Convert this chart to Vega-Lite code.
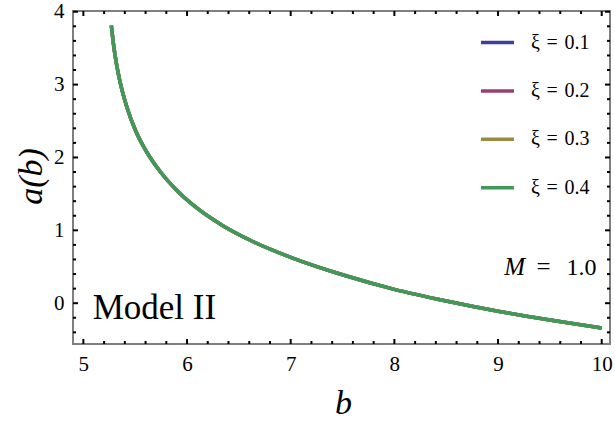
{
  "$schema": "https://vega.github.io/schema/vega-lite/v6.json",
  "width": 537,
  "height": 333,
  "autosize": {"type": "none"},
  "padding": {"left": 73, "top": 11, "right": 5, "bottom": 86},
  "background": "white",
  "config": {
    "view": {"stroke": "#7f7f7f", "strokeWidth": 2},
    "axis": {"domain": false, "grid": false, "ticks": false, "labelFont": "Liberation Serif", "labelFontSize": 21, "labelColor": "black", "titleFont": "Liberation Serif", "titleColor": "black", "titleFontWeight": "normal", "titleFontStyle": "italic", "titleFontSize": 34}
  },
  "datasets": {
    "xticks": [
      {"t": 5, "kind": "major"}, {"t": 5.2, "kind": "minor"}, {"t": 5.4, "kind": "minor"}, {"t": 5.6, "kind": "minor"}, {"t": 5.8, "kind": "minor"},
      {"t": 6, "kind": "major"}, {"t": 6.2, "kind": "minor"}, {"t": 6.4, "kind": "minor"}, {"t": 6.6, "kind": "minor"}, {"t": 6.8, "kind": "minor"},
      {"t": 7, "kind": "major"}, {"t": 7.2, "kind": "minor"}, {"t": 7.4, "kind": "minor"}, {"t": 7.6, "kind": "minor"}, {"t": 7.8, "kind": "minor"},
      {"t": 8, "kind": "major"}, {"t": 8.2, "kind": "minor"}, {"t": 8.4, "kind": "minor"}, {"t": 8.6, "kind": "minor"}, {"t": 8.8, "kind": "minor"},
      {"t": 9, "kind": "major"}, {"t": 9.2, "kind": "minor"}, {"t": 9.4, "kind": "minor"}, {"t": 9.6, "kind": "minor"}, {"t": 9.8, "kind": "minor"},
      {"t": 10, "kind": "major"}
    ],
    "yticks": [
      {"t": -0.4, "kind": "minor"}, {"t": -0.2, "kind": "minor"},
      {"t": 0, "kind": "major"}, {"t": 0.2, "kind": "minor"}, {"t": 0.4, "kind": "minor"}, {"t": 0.6, "kind": "minor"}, {"t": 0.8, "kind": "minor"},
      {"t": 1, "kind": "major"}, {"t": 1.2, "kind": "minor"}, {"t": 1.4, "kind": "minor"}, {"t": 1.6, "kind": "minor"}, {"t": 1.8, "kind": "minor"},
      {"t": 2, "kind": "major"}, {"t": 2.2, "kind": "minor"}, {"t": 2.4, "kind": "minor"}, {"t": 2.6, "kind": "minor"}, {"t": 2.8, "kind": "minor"},
      {"t": 3, "kind": "major"}, {"t": 3.2, "kind": "minor"}, {"t": 3.4, "kind": "minor"}, {"t": 3.6, "kind": "minor"}, {"t": 3.8, "kind": "minor"},
      {"t": 4, "kind": "major"}
    ],
    "curves": [
      {"xi": "ξ = 0.1", "b": 5.27, "a": 3.81}, {"xi": "ξ = 0.1", "b": 5.29, "a": 3.56}, {"xi": "ξ = 0.1", "b": 5.32, "a": 3.28}, {"xi": "ξ = 0.1", "b": 5.36, "a": 3.0},
      {"xi": "ξ = 0.1", "b": 5.42, "a": 2.69}, {"xi": "ξ = 0.1", "b": 5.5, "a": 2.38}, {"xi": "ξ = 0.1", "b": 5.6, "a": 2.1}, {"xi": "ξ = 0.1", "b": 5.75, "a": 1.79},
      {"xi": "ξ = 0.1", "b": 5.9, "a": 1.55}, {"xi": "ξ = 0.1", "b": 6.1, "a": 1.3}, {"xi": "ξ = 0.1", "b": 6.35, "a": 1.06}, {"xi": "ξ = 0.1", "b": 6.6, "a": 0.87},
      {"xi": "ξ = 0.1", "b": 7.0, "a": 0.63}, {"xi": "ξ = 0.1", "b": 7.5, "a": 0.39}, {"xi": "ξ = 0.1", "b": 8.0, "a": 0.19}, {"xi": "ξ = 0.1", "b": 8.5, "a": 0.03},
      {"xi": "ξ = 0.1", "b": 9.0, "a": -0.11}, {"xi": "ξ = 0.1", "b": 9.5, "a": -0.23}, {"xi": "ξ = 0.1", "b": 10.0, "a": -0.34},
      {"xi": "ξ = 0.2", "b": 5.27, "a": 3.81}, {"xi": "ξ = 0.2", "b": 5.29, "a": 3.56}, {"xi": "ξ = 0.2", "b": 5.32, "a": 3.28}, {"xi": "ξ = 0.2", "b": 5.36, "a": 3.0},
      {"xi": "ξ = 0.2", "b": 5.42, "a": 2.69}, {"xi": "ξ = 0.2", "b": 5.5, "a": 2.38}, {"xi": "ξ = 0.2", "b": 5.6, "a": 2.1}, {"xi": "ξ = 0.2", "b": 5.75, "a": 1.79},
      {"xi": "ξ = 0.2", "b": 5.9, "a": 1.55}, {"xi": "ξ = 0.2", "b": 6.1, "a": 1.3}, {"xi": "ξ = 0.2", "b": 6.35, "a": 1.06}, {"xi": "ξ = 0.2", "b": 6.6, "a": 0.87},
      {"xi": "ξ = 0.2", "b": 7.0, "a": 0.63}, {"xi": "ξ = 0.2", "b": 7.5, "a": 0.39}, {"xi": "ξ = 0.2", "b": 8.0, "a": 0.19}, {"xi": "ξ = 0.2", "b": 8.5, "a": 0.03},
      {"xi": "ξ = 0.2", "b": 9.0, "a": -0.11}, {"xi": "ξ = 0.2", "b": 9.5, "a": -0.23}, {"xi": "ξ = 0.2", "b": 10.0, "a": -0.34},
      {"xi": "ξ = 0.3", "b": 5.27, "a": 3.81}, {"xi": "ξ = 0.3", "b": 5.29, "a": 3.56}, {"xi": "ξ = 0.3", "b": 5.32, "a": 3.28}, {"xi": "ξ = 0.3", "b": 5.36, "a": 3.0},
      {"xi": "ξ = 0.3", "b": 5.42, "a": 2.69}, {"xi": "ξ = 0.3", "b": 5.5, "a": 2.38}, {"xi": "ξ = 0.3", "b": 5.6, "a": 2.1}, {"xi": "ξ = 0.3", "b": 5.75, "a": 1.79},
      {"xi": "ξ = 0.3", "b": 5.9, "a": 1.55}, {"xi": "ξ = 0.3", "b": 6.1, "a": 1.3}, {"xi": "ξ = 0.3", "b": 6.35, "a": 1.06}, {"xi": "ξ = 0.3", "b": 6.6, "a": 0.87},
      {"xi": "ξ = 0.3", "b": 7.0, "a": 0.63}, {"xi": "ξ = 0.3", "b": 7.5, "a": 0.39}, {"xi": "ξ = 0.3", "b": 8.0, "a": 0.19}, {"xi": "ξ = 0.3", "b": 8.5, "a": 0.03},
      {"xi": "ξ = 0.3", "b": 9.0, "a": -0.11}, {"xi": "ξ = 0.3", "b": 9.5, "a": -0.23}, {"xi": "ξ = 0.3", "b": 10.0, "a": -0.34},
      {"xi": "ξ = 0.4", "b": 5.27, "a": 3.81}, {"xi": "ξ = 0.4", "b": 5.29, "a": 3.56}, {"xi": "ξ = 0.4", "b": 5.32, "a": 3.28}, {"xi": "ξ = 0.4", "b": 5.36, "a": 3.0},
      {"xi": "ξ = 0.4", "b": 5.42, "a": 2.69}, {"xi": "ξ = 0.4", "b": 5.5, "a": 2.38}, {"xi": "ξ = 0.4", "b": 5.6, "a": 2.1}, {"xi": "ξ = 0.4", "b": 5.75, "a": 1.79},
      {"xi": "ξ = 0.4", "b": 5.9, "a": 1.55}, {"xi": "ξ = 0.4", "b": 6.1, "a": 1.3}, {"xi": "ξ = 0.4", "b": 6.35, "a": 1.06}, {"xi": "ξ = 0.4", "b": 6.6, "a": 0.87},
      {"xi": "ξ = 0.4", "b": 7.0, "a": 0.63}, {"xi": "ξ = 0.4", "b": 7.5, "a": 0.39}, {"xi": "ξ = 0.4", "b": 8.0, "a": 0.19}, {"xi": "ξ = 0.4", "b": 8.5, "a": 0.03},
      {"xi": "ξ = 0.4", "b": 9.0, "a": -0.11}, {"xi": "ξ = 0.4", "b": 9.5, "a": -0.23}, {"xi": "ξ = 0.4", "b": 10.0, "a": -0.34}
    ]
  },
  "layer": [
    {
      "data": {"name": "curves"},
      "mark": {"type": "line", "strokeWidth": 3.5, "interpolate": "monotone", "clip": true},
      "encoding": {
        "x": {"field": "b", "type": "quantitative", "scale": {"domain": [4.9, 10.08], "nice": false, "zero": false},
          "axis": {"orient": "bottom", "values": [5, 6, 7, 8, 9, 10], "labelPadding": 9, "title": "b", "titleX": 270, "titleY": 69, "titleBaseline": "alphabetic", "titleAlign": "center"}},
        "y": {"field": "a", "type": "quantitative", "scale": {"domain": [-0.56, 4.01], "nice": false, "zero": false},
          "axis": {"orient": "left", "values": [0, 1, 2, 3, 4], "labelPadding": 9, "title": "a(b)", "titleX": -42, "titleY": 165, "titleAngle": -90, "titleAlign": "center", "titleBaseline": "middle"}},
        "color": {"field": "xi", "type": "nominal",
          "scale": {"domain": ["ξ = 0.1", "ξ = 0.2", "ξ = 0.3", "ξ = 0.4"], "range": ["#3f3f9a", "#9a3f72", "#9a8a3f", "#3f9a58"]},
          "legend": {"title": null, "orient": "none", "legendX": 406, "legendY": 13, "symbolType": "stroke", "symbolSize": 1089, "symbolStrokeWidth": 3.5, "labelFont": "Liberation Serif", "labelFontSize": 20, "labelColor": "black", "labelOffset": 15, "rowPadding": 19.4, "labelExpr": "replace(datum.label, ' = ', '\u2004=\u2004')"}}
      }
    },
    {
      "data": {"name": "xticks"},
      "transform": [{"filter": "datum.kind == 'major'"}],
      "mark": {"type": "tick", "orient": "vertical", "color": "black", "opacity": 1, "size": 5, "thickness": 2, "yOffset": -2.5},
      "encoding": {
        "x": {"field": "t", "type": "quantitative", "axis": null},
        "y": {"datum": -0.56, "type": "quantitative", "axis": null}
      }
    },
    {
      "data": {"name": "xticks"},
      "transform": [{"filter": "datum.kind == 'minor'"}],
      "mark": {"type": "tick", "orient": "vertical", "color": "black", "opacity": 1, "size": 3, "thickness": 2, "yOffset": -1.5},
      "encoding": {
        "x": {"field": "t", "type": "quantitative", "axis": null},
        "y": {"datum": -0.56, "type": "quantitative", "axis": null}
      }
    },
    {
      "data": {"name": "xticks"},
      "transform": [{"filter": "datum.kind == 'major'"}],
      "mark": {"type": "tick", "orient": "vertical", "color": "black", "opacity": 1, "size": 5, "thickness": 2, "yOffset": 2.5},
      "encoding": {
        "x": {"field": "t", "type": "quantitative", "axis": null},
        "y": {"datum": 4.01, "type": "quantitative", "axis": null}
      }
    },
    {
      "data": {"name": "xticks"},
      "transform": [{"filter": "datum.kind == 'minor'"}],
      "mark": {"type": "tick", "orient": "vertical", "color": "black", "opacity": 1, "size": 3, "thickness": 2, "yOffset": 1.5},
      "encoding": {
        "x": {"field": "t", "type": "quantitative", "axis": null},
        "y": {"datum": 4.01, "type": "quantitative", "axis": null}
      }
    },
    {
      "data": {"name": "yticks"},
      "transform": [{"filter": "datum.kind == 'major'"}],
      "mark": {"type": "tick", "orient": "horizontal", "color": "black", "opacity": 1, "size": 5, "thickness": 2, "xOffset": 2.5},
      "encoding": {
        "y": {"field": "t", "type": "quantitative", "axis": null},
        "x": {"datum": 4.9, "type": "quantitative", "axis": null}
      }
    },
    {
      "data": {"name": "yticks"},
      "transform": [{"filter": "datum.kind == 'minor'"}],
      "mark": {"type": "tick", "orient": "horizontal", "color": "black", "opacity": 1, "size": 3, "thickness": 2, "xOffset": 1.5},
      "encoding": {
        "y": {"field": "t", "type": "quantitative", "axis": null},
        "x": {"datum": 4.9, "type": "quantitative", "axis": null}
      }
    },
    {
      "data": {"name": "yticks"},
      "transform": [{"filter": "datum.kind == 'major'"}],
      "mark": {"type": "tick", "orient": "horizontal", "color": "black", "opacity": 1, "size": 5, "thickness": 2, "xOffset": -2.5},
      "encoding": {
        "y": {"field": "t", "type": "quantitative", "axis": null},
        "x": {"datum": 10.08, "type": "quantitative", "axis": null}
      }
    },
    {
      "data": {"name": "yticks"},
      "transform": [{"filter": "datum.kind == 'minor'"}],
      "mark": {"type": "tick", "orient": "horizontal", "color": "black", "opacity": 1, "size": 3, "thickness": 2, "xOffset": -1.5},
      "encoding": {
        "y": {"field": "t", "type": "quantitative", "axis": null},
        "x": {"datum": 10.08, "type": "quantitative", "axis": null}
      }
    },
    {
      "data": {"values": [{"label": "Model II"}]},
      "mark": {"type": "text", "font": "Liberation Serif", "fontSize": 35, "align": "left", "baseline": "alphabetic", "color": "black"},
      "encoding": {
        "x": {"datum": 5.09, "type": "quantitative", "axis": null},
        "y": {"datum": -0.22, "type": "quantitative", "axis": null},
        "text": {"field": "label"}
      }
    },
    {
      "data": {"values": [{"label": "1.0"}]},
      "mark": {"type": "text", "font": "Liberation Serif", "fontSize": 24, "align": "right", "baseline": "alphabetic", "color": "black"},
      "encoding": {
        "x": {"datum": 9.95, "type": "quantitative", "axis": null},
        "y": {"datum": 0.385, "type": "quantitative", "axis": null},
        "text": {"field": "label"}
      }
    },
    {
      "data": {"values": [{"label": "="}]},
      "mark": {"type": "text", "font": "Liberation Serif", "fontSize": 25, "align": "center", "baseline": "alphabetic", "color": "black"},
      "encoding": {
        "x": {"datum": 9.44, "type": "quantitative", "axis": null},
        "y": {"datum": 0.385, "type": "quantitative", "axis": null},
        "text": {"field": "label"}
      }
    },
    {
      "data": {"values": [{"label": "M"}]},
      "mark": {"type": "text", "font": "Liberation Serif", "fontSize": 25, "fontStyle": "italic", "align": "right", "baseline": "alphabetic", "color": "black"},
      "encoding": {
        "x": {"datum": 9.26, "type": "quantitative", "axis": null},
        "y": {"datum": 0.385, "type": "quantitative", "axis": null},
        "text": {"field": "label"}
      }
    }
  ],
  "resolve": {"axis": {"x": "independent", "y": "independent"}}
}
